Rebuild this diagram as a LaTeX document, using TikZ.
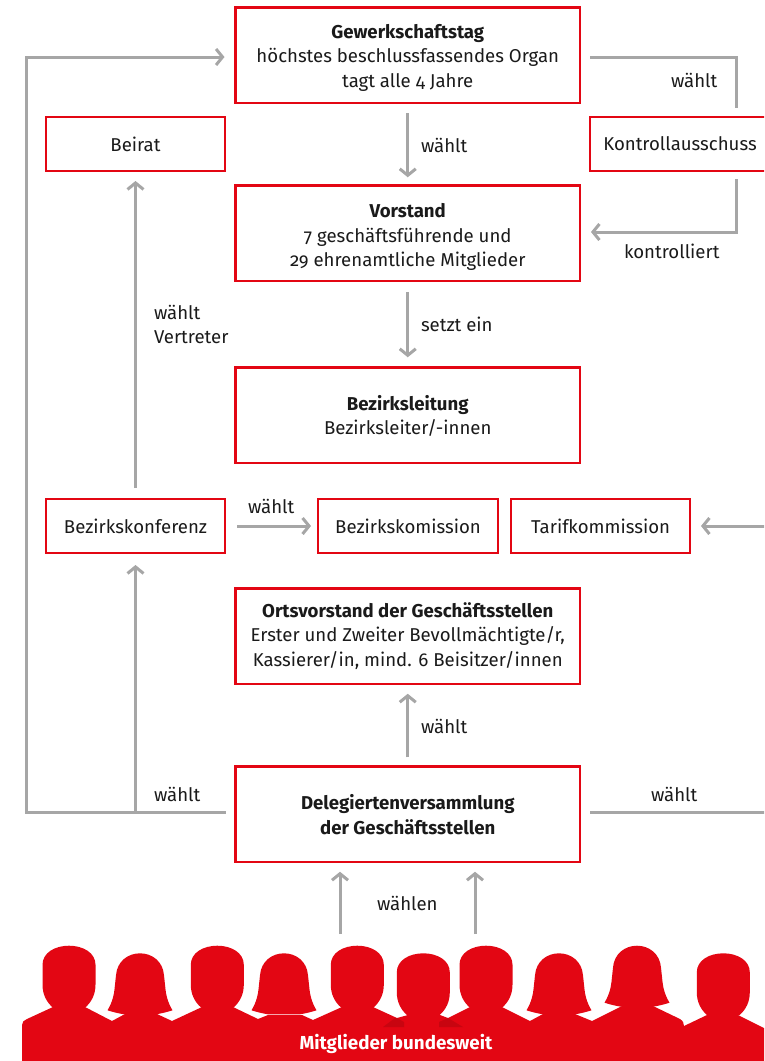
\documentclass[tikz,border=0pt]{standalone}
\usepackage{fontspec}
\setmainfont[Numbers=OldStyle]{Fira Sans}
\usetikzlibrary{arrows.meta,calc}
\definecolor{vred}{HTML}{E30613}
\definecolor{vdark}{HTML}{C80510}
\definecolor{vgray}{HTML}{A6A6A6}
\definecolor{vtext}{HTML}{1A1A1A}
\newcommand{\malehead}[2]{\fill[vred,shift={(#1,#2)}] (-16,62) .. controls (-23,56) and (-26.5,48) .. (-26.5,39) -- (-26.5,19) .. controls (-26.5,7) and (-14,0) .. (0,0) .. controls (14,0) and (26.5,7) .. (26.5,19) -- (26.5,39) .. controls (26.5,48) and (23,56) .. (16,62) -- cycle;}
\newcommand{\femalehead}[2]{\fill[vred,shift={(#1,#2)}] (-16,61) .. controls (-22,60) and (-28,58.5) .. (-32.5,57) .. controls (-27,48) and (-26,40) .. (-25.5,36) -- (-24,22) .. controls (-23,8) and (-12,0) .. (0,0) .. controls (12,0) and (23,8) .. (24,22) -- (25.5,36) .. controls (26,40) and (27,48) .. (32.5,57) .. controls (28,58.5) and (22,60) .. (16,61) -- cycle;}
\newcommand{\dn}[1]{\rule{0pt}{#1pt}}
\tikzset{
  x=1pt,y=-1pt,
  every node/.style={font=\fontsize{18.6}{24.4}\selectfont,text=vtext,inner sep=0pt,outer sep=0pt},
  box/.style={draw=vred,line width=2.5pt,fill=white,align=center,minimum width=344.5pt,minimum height=95.5pt},
  sbox/.style={draw=vred,line width=2.5pt,fill=white,align=center,minimum width=#1,minimum height=54pt},
  conn/.style={draw=vgray,line width=3pt},
  arr/.style={conn,-{Straight Barb[length=6.5pt,width=16pt]}},
  lab/.style={anchor=base west},
}
\begin{document}
\begin{tikzpicture}
\useasboundingbox (0,0) rectangle (764,1061);
\clip (0,0) rectangle (764,1061);
% boxes
\node[box] (gew) at (407.75,55.25) {\dn{19}\textbf{Gewerkschaftstag}\\höchstes beschlussfassendes Organ\\tagt alle 4 Jahre};
\node[box] (vor) at (407.75,233) {\dn{22}\textbf{Vorstand}\\7 geschäftsführende und\\29 ehrenamtliche Mitglieder};
\node[box] (bzl) at (407.75,415) {\dn{17}\textbf{Bezirksleitung}\\Bezirksleiter/-innen};
\node[box] (ort) at (407.75,636) {\dn{15}\textbf{Ortsvorstand der Geschäftsstellen}\\Erster und Zweiter Bevollmächtigte/r,\\Kassierer/in, mind. 6 Beisitzer/innen};
\node[box] (del) at (407.75,814) {\dn{16}\textbf{Delegiertenversammlung}\\\textbf{der Geschäftsstellen}};
\node[sbox=179pt] (bei) at (135.5,144) {Beirat};
\node[sbox=180pt] (kon) at (680,144) {Kontrollausschuss};
\node[sbox=179pt] (bzk) at (135.5,526) {Bezirkskonferenz};
\node[sbox=180pt] (kom) at (408,526) {Bezirkskomission};
\node[sbox=179pt] (tar) at (600.5,526) {Tarifkommission};
% free ends
\coordinate (loopbot) at (26,812);
\coordinate (looptop) at (26,57);
\coordinate (gewr) at (736,57);
\coordinate (konb) at (736,232);
\coordinate (edgeA) at (766,812);
\coordinate (edgeB) at (766,526);
\coordinate (m1) at (340,934);
\coordinate (m2) at (475,934);
% connectors
\draw[arr,shorten <=10pt,shorten >=8pt] (gew.south) -- (vor.north);
\draw[arr,shorten <=11pt,shorten >=10pt] (vor.south) -- (bzl.north);
\draw[arr,shorten <=11pt,shorten >=10pt] (bzk.north) -- (bei.south);
\draw[arr,shorten <=9pt,shorten >=10pt] (del.north) -- (ort.south);
\draw[arr,shorten <=12pt,shorten >=7pt] (bzk.east) -- (kom.west);
\draw[arr,shorten >=11pt] (edgeB) -- (tar.east);
\draw[arr,shorten >=10pt] (m1) -- (m1 |- del.south);
\draw[arr,shorten >=10pt] (m2) -- (m2 |- del.south);
\draw[arr,shorten <=10pt,shorten >=11pt] (del.west |- loopbot) -- (loopbot) -- (looptop) -- (gew.west |- looptop);
\draw[arr,shorten >=12pt] (bzk.south |- loopbot) -- (bzk.south);
\draw[conn,shorten <=10pt] (del.east |- edgeA) -- (edgeA);
\draw[conn,shorten <=10pt,shorten >=9pt,line join=miter] (gew.east |- gewr) -- (gewr) -- (gewr |- kon.north);
\draw[arr,shorten <=8pt,shorten >=11pt] (gewr |- kon.south) -- (konb) -- (vor.east |- konb);
% labels
\node[lab] (l1) at (421,152) {wählt};
\node[lab] (l2) at (421,331) {setzt ein};
\node[lab] (l3) at (671,87) {wählt};
\node[lab] (l4) at (624,258) {kontrolliert};
\node[lab,align=left,anchor=north west] (l5) at (154,305) {wählt\\Vertreter};
\node[lab] (l6) at (248,513) {wählt};
\node[lab] (l7) at (421,733) {wählt};
\node[lab] (l8) at (154,801) {wählt};
\node[lab] (l9) at (651,801) {wählt};
\node[lab] (l10) at (377,910) {wählen};
% members
\fill[vred] (22,1061) -- (22,1025) .. controls (22,1022) and (24,1020) .. (27,1019) -- (53,1007) -- (85,1007) -- (112,1021) -- (125,1014) -- (157,1014) -- (172,1021) -- (202,1007) -- (233,1007) -- (258,1019) -- (268,1015) -- (302,1015) -- (313,1020) -- (342,1007) -- (373,1007) -- (397,1018) -- (408,1015) -- (440,1015) -- (448,1018) -- (470,1007) -- (502,1007) -- (530,1021) -- (543,1014) -- (575,1014) -- (592,1021) -- (622,1006) -- (653,1006) -- (680,1019) .. controls (683,1021) and (684,1023) .. (684,1026) -- (707,1015) -- (738,1015) -- (764,1028) -- (764,1061) -- cycle;
\fill[vdark] (383,1027) -- (395,1018) -- (397,1018) -- (404,1022) -- (404,1027) -- cycle;
\fill[vdark] (439,1027) -- (439,1022) -- (448,1018) -- (463,1027) -- cycle;
\malehead{69}{945.7}
\femalehead{140}{953.3}
\malehead{217.3}{945.7}
\femalehead{284}{953.3}
\malehead{357.3}{945.7}
\malehead{423.3}{953.3}
\malehead{486}{945.7}
\femalehead{559}{953.3}
\femalehead{637}{945.7}
\malehead{723.3}{953.3}
\node[font=\fontsize{18.8}{20}\selectfont\bfseries,text=white] (mit) at (396,1044) {Mitglieder bundesweit};
\end{tikzpicture}
\end{document}
